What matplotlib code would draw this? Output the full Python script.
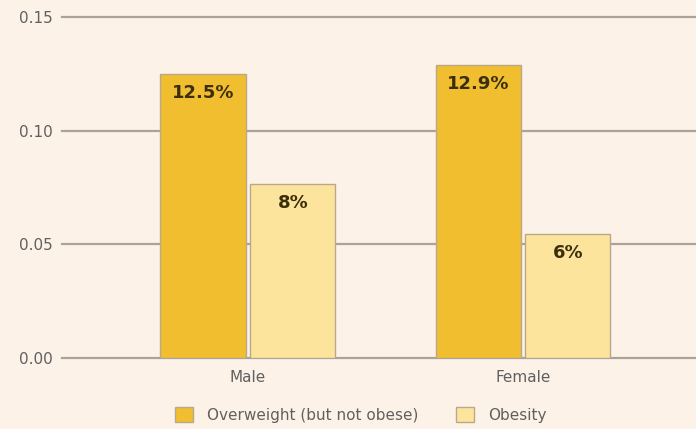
import matplotlib.pyplot as plt
import numpy as np

categories = ["Male", "Female"]
overweight = [0.125, 0.129]
obesity = [0.0766, 0.0546]
overweight_labels = ["12.5%", "12.9%"]
obesity_labels = ["8%", "6%"]
yticks = [0.00, 0.05, 0.10, 0.15]

bg = "#FDF2E8"
fig = plt.figure(figsize=(6.96, 4.29), dpi=100, facecolor=bg)
ax = fig.add_axes([62 / 696, 1 - 358 / 429, 634 / 696, (358 - 17) / 429])
ax.set_facecolor(bg)

x = np.arange(len(categories))
w = 0.31
off = 0.163
b1 = ax.bar(x - off, overweight, w, color="#F0BE2E", edgecolor="#B8A98A", linewidth=1, zorder=3,
            label="Overweight (but not obese)")
b2 = ax.bar(x + off, obesity, w, color="#FDE49C", edgecolor="#B8A98A", linewidth=1, zorder=3,
            label="Obesity")

for bars, labels in [(b1, overweight_labels), (b2, obesity_labels)]:
    for bar, lab in zip(bars, labels):
        ax.text(bar.get_x() + bar.get_width() / 2, bar.get_height() - 0.0045, lab,
                ha="center", va="top", fontsize=13, fontweight="bold", color="#3B2E0A", zorder=4)

ax.set_xlim(-0.676, 1.629)
ax.set_ylim(0, 0.15)
ax.set_yticks(yticks)
ax.set_yticklabels([f"{t:.2f}" for t in yticks])
ax.set_xticks(x)
ax.set_xticklabels(categories)
ax.tick_params(axis="both", length=0, labelsize=11, labelcolor="#606060")
ax.tick_params(axis="y", pad=7)
ax.tick_params(axis="x", pad=9)
ax.yaxis.grid(True, color="#A9A39B", linewidth=1.6, zorder=0)
for gl in ax.get_ygridlines():
    gl.set_clip_on(False)
for s in ax.spines.values():
    s.set_visible(False)

ax.legend(loc="center left", bbox_to_anchor=(175 / 696, 1 - 415 / 429), bbox_transform=fig.transFigure,
          ncol=2, frameon=False, fontsize=11, handlelength=1.18, handleheight=1.1,
          handletextpad=0.9, columnspacing=2.5, borderpad=0, borderaxespad=0,
          labelcolor="#606060")

fig.savefig("out.png", dpi=100, facecolor=bg)
